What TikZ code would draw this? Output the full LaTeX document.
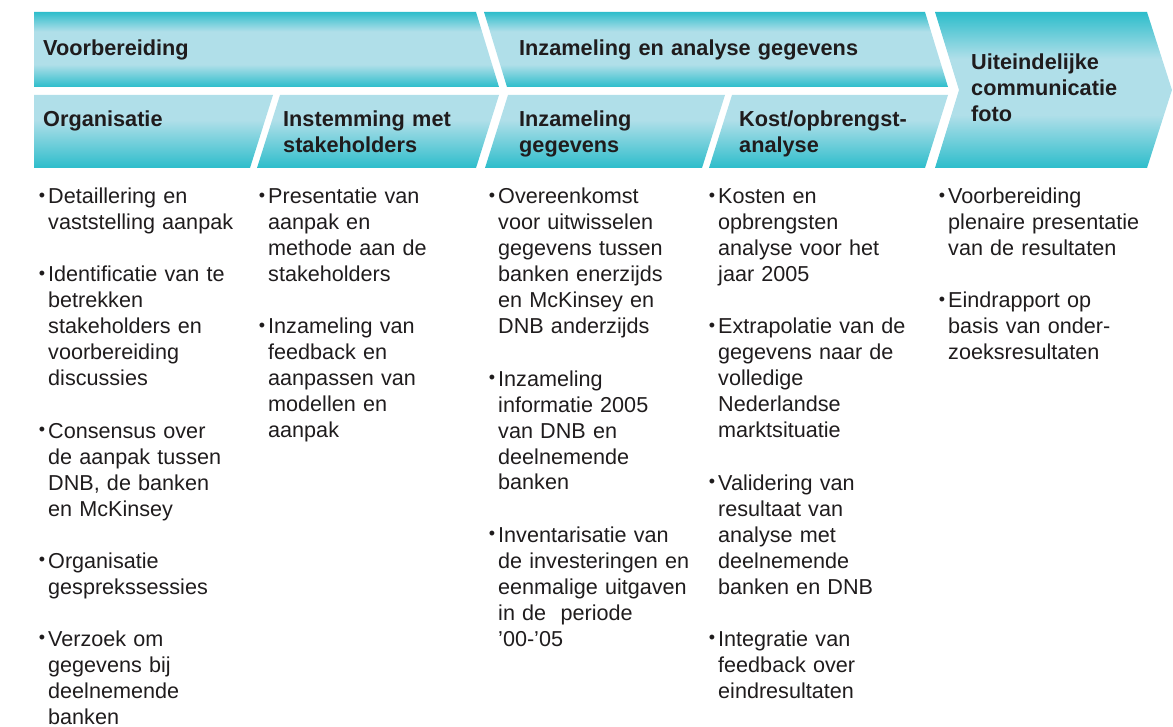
\documentclass[tikz,border=0pt]{standalone}
\usepackage{fontspec}
\setmainfont{Liberation Sans}
\definecolor{tealc}{HTML}{2DBDCB}
\definecolor{lightc}{HTML}{B0DFE9}
\definecolor{txt}{HTML}{1F1C1D}
\pgfdeclareverticalshading{topband}{100bp}{color(0bp)=(tealc); color(25bp)=(tealc); color(40bp)=(lightc); color(62bp)=(lightc); color(75bp)=(tealc); color(100bp)=(tealc)}
\pgfdeclareverticalshading{lowband}{100bp}{color(0bp)=(tealc); color(25bp)=(tealc); color(58bp)=(lightc); color(75bp)=(lightc); color(100bp)=(lightc)}
\pgfdeclareverticalshading{tallband}{100bp}{color(0bp)=(tealc); color(25bp)=(tealc); color(42bp)=(lightc); color(60bp)=(lightc); color(75bp)=(tealc); color(100bp)=(tealc)}
\newcommand{\bul}{\llap{\raisebox{2.5pt}{\fontsize{18}{18}\selectfont •}\hspace{3pt}}}
\begin{document}
\begin{tikzpicture}[x=1pt,y=-1pt,
  topshape/.style={draw=none, shading=topband},
  lowshape/.style={draw=none, shading=lowband},
  tallshape/.style={draw=none, shading=tallband},
  head/.style={anchor=base west, inner sep=0pt, text=txt, font=\bfseries\fontsize{21.7}{26}\selectfont, align=left, text width=400pt},
  body/.style={anchor=base west, inner sep=0pt, text=txt, font=\fontsize{21.6}{26}\selectfont, align=left, text width=235pt}]
\useasboundingbox (0,0) rectangle (1173,727);
% chevron bands
\path[topshape] (34,12) -- (476,12) -- (499,87) -- (34,87) -- cycle;
\path[topshape] (484,12) -- (925,12) -- (948,87) -- (507,87) -- cycle;
\path[tallshape] (935,12) -- (1147,12) -- (1172,90) -- (1147,168) -- (935,168) -- (959,90) -- cycle;
\path[lowshape] (34,95) -- (273,95) -- (250,168) -- (34,168) -- cycle;
\path[lowshape] (280,95) -- (499,95) -- (476,168) -- (257,168) -- cycle;
\path[lowshape] (508,95) -- (725,95) -- (702,168) -- (485,168) -- cycle;
\path[lowshape] (732,95) -- (948,95) -- (925,168) -- (709,168) -- cycle;
% headers
\node[head] (h1) at (43,56) {Voorbereiding};
\node[head] (h2) at (519,56) {Inzameling en analyse gegevens};
\node[head] (h3) at (971,70) {Uiteindelijke\\communicatie\\foto};
\node[head] (s1) at (43,127) {Organisatie};
\node[head] (s2) at (283,127) {Instemming met\\stakeholders};
\node[head] (s3) at (519,127) {Inzameling\\gegevens};
\node[head] (s4) at (739,127) {Kost/opbrengst-\\analyse};
% column 1
\node[body] (c1a) at (48,204) {\bul Detaillering en\\vaststelling aanpak};
\node[body] (c1b) at (48,{204+3*26}) {\bul Identificatie van te\\betrekken\\stakeholders en\\voorbereiding\\discussies};
\node[body] (c1c) at (48,{204+9*26}) {\bul Consensus over\\de aanpak tussen\\DNB, de banken\\en McKinsey};
\node[body] (c1d) at (48,{204+14*26}) {\bul Organisatie\\gesprekssessies};
\node[body] (c1e) at (48,{204+17*26}) {\bul Verzoek om\\gegevens bij\\deelnemende\\banken};
% column 2
\node[body] (c2a) at (268,204) {\bul Presentatie van\\aanpak en\\methode aan de\\stakeholders};
\node[body] (c2b) at (268,{204+5*26}) {\bul Inzameling van\\feedback en\\aanpassen van\\modellen en\\aanpak};
% column 3
\node[body] (c3a) at (498,204) {\bul Overeenkomst\\voor uitwisselen\\gegevens tussen\\banken enerzijds\\en McKinsey en\\DNB anderzijds};
\node[body] (c3b) at (498,{204+7*26}) {\bul Inzameling\\informatie 2005\\van DNB en\\deelnemende\\banken};
\node[body] (c3c) at (498,{204+13*26}) {\bul Inventarisatie van\\de investeringen en\\eenmalige uitgaven\\in de~ periode\\’00-’05};
% column 4
\node[body] (c4a) at (718,204) {\bul Kosten en\\opbrengsten\\analyse voor het\\jaar 2005};
\node[body] (c4b) at (718,{204+5*26}) {\bul Extrapolatie van de\\gegevens naar de\\volledige\\Nederlandse\\marktsituatie};
\node[body] (c4c) at (718,{204+11*26}) {\bul Validering van\\resultaat van\\analyse met\\deelnemende\\banken en DNB};
\node[body] (c4d) at (718,{204+17*26}) {\bul Integratie van\\feedback over\\eindresultaten};
% column 5
\node[body] (c5a) at (948,204) {\bul Voorbereiding\\plenaire presentatie\\van de resultaten};
\node[body] (c5b) at (948,{204+4*26}) {\bul Eindrapport op\\basis van onder-\\zoeksresultaten};
\end{tikzpicture}
\end{document}
